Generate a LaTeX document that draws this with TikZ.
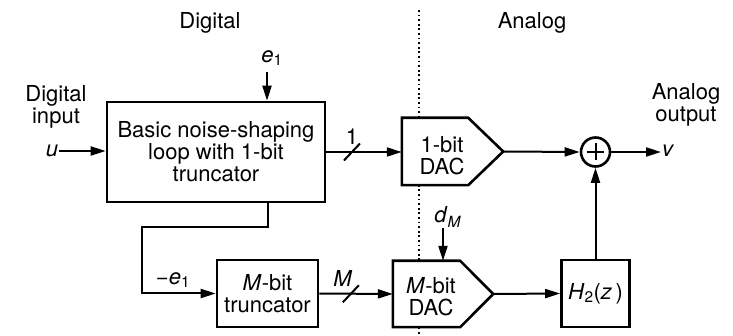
\documentclass[tikz,border=0pt]{standalone}
\usepackage{fontspec}
\setmainfont{TeX Gyre Heros}
\usetikzlibrary{arrows.meta,calc}
\begin{document}
\begin{tikzpicture}[x=1pt,y=-1pt,
  font=\fontsize{22}{22}\selectfont,
  blk/.style={draw, line width=2.6pt, fill=white, inner sep=0pt, align=center},
  dacbox/.style={inner sep=0pt, minimum width=101pt, minimum height=67pt},
  dacline/.style={draw, line width=2.6pt, fill=white, line join=miter},
  arr/.style={-{Triangle[length=15pt,width=9pt]}, line width=2pt},
  ln/.style={line width=2pt},
  lab/.style={inner sep=1pt}]
\useasboundingbox (0,0) rectangle (733,336);
% divider
\coordinate (dtop) at (419,10);
\coordinate (dbot) at (419,336);
\draw[line width=1.8pt, dash pattern=on 1.8pt off 2.8pt] (dtop) -- (dbot);
% titles
\node[lab] (tdig) at (210,23) {Digital};
\node[lab] (tana) at (532,23) {Analog};
\node[lab, align=center] (din) at (56,107) {Digital\\input};
\node[lab, align=center] (aout) at (686,105) {Analog\\output};
% blocks
\node[blk, minimum width=218pt, minimum height=100pt] (main) at (216,152) {Basic noise-shaping\\loop with 1-bit\\truncator};
\node[dacbox] (dac1) at (452.5,151.5) {};
\draw[dacline] (dac1.north west) -- ($(dac1.north east)+(-35,0)$) -- (dac1.east)
  -- ($(dac1.south east)+(-35,0)$) -- (dac1.south west) -- cycle;
\node[lab, align=center] (dac1t) at (442,156) {1-bit\\DAC};
\node[draw, circle, line width=2.6pt, minimum size=29pt, inner sep=0pt, fill=white] (sum) at (595.5,152) {};
\draw[ln] ($(sum.center)+(-8.5,0)$) -- ($(sum.center)+(8.5,0)$);
\draw[ln] ($(sum.center)+(0,-8.5)$) -- ($(sum.center)+(0,8.5)$);
\node[blk, minimum width=101pt, minimum height=67pt] (trunc) at (267.5,293.5) {\textit{M}-bit\\truncator};
\node[dacbox, minimum width=100pt, minimum height=66pt] (dac2) at (443,294) {};
\draw[dacline] (dac2.north west) -- ($(dac2.north east)+(-33,0)$) -- (dac2.east)
  -- ($(dac2.south east)+(-33,0)$) -- (dac2.south west) -- cycle;
\node[lab, align=center] (dac2t) at (431,297) {\textit{M}-bit\\DAC};
\node[blk, minimum width=68pt, minimum height=67pt] (h2) at (595.5,293.5) {\textit{H}\textsubscript{2}(\textit{z\,})};
% labels
\node[lab] (u) at (52,151) {\textit{u}};
\node[lab] (e1) at (272,58) {\textit{e}\textsubscript{1}};
\node[lab, anchor=west] (v) at (661,151) {\textit{v}};
\node[lab] (dm) at (448,217) {\textit{d}\textsubscript{\textit{M}}};
\node[lab] (me1) at (173,280) {−\textit{e}\textsubscript{1}};
\node[lab] (one) at (352,137) {1};
\node[lab] (mlab) at (343,278) {\textit{M}};
% connectors
\coordinate (e1s) at (267,72);
\coordinate (dms) at (443,228);
\coordinate (fb) at (268,202);
\draw[arr] (u.east) -- (u.east -| main.west);
\draw[arr] (e1s) -- (e1s |- main.north);
\draw[arr] (main.east) -- (main.east -| dac1.west);
\draw[arr] (dac1.east) -- (sum.west);
\draw[arr] (sum.east) -- (v.west |- sum.east);
\draw[arr] (sum |- h2.north) -- (sum.south);
\draw[arr] (fb) -- (268,227) -- (142,227) -- (142,293.5) -- (trunc.west);
\draw[arr] (trunc.east) -- (dac2.west);
\draw[arr] (dms) -- (dms |- dac2.north);
\draw[arr] (dac2.east) -- (h2.west);
% bus slashes
\path (main.east) -- (main.east -| dac1.west) coordinate[pos=0.34] (s1);
\path (trunc.east) -- (dac2.west) coordinate[pos=0.43] (s2);
\draw[ln] ($(s1)+(-8,8.5)$) -- ($(s1)+(8,-8.5)$);
\draw[ln] ($(s2)+(-8,8.5)$) -- ($(s2)+(8,-8.5)$);
\end{tikzpicture}
\end{document}
